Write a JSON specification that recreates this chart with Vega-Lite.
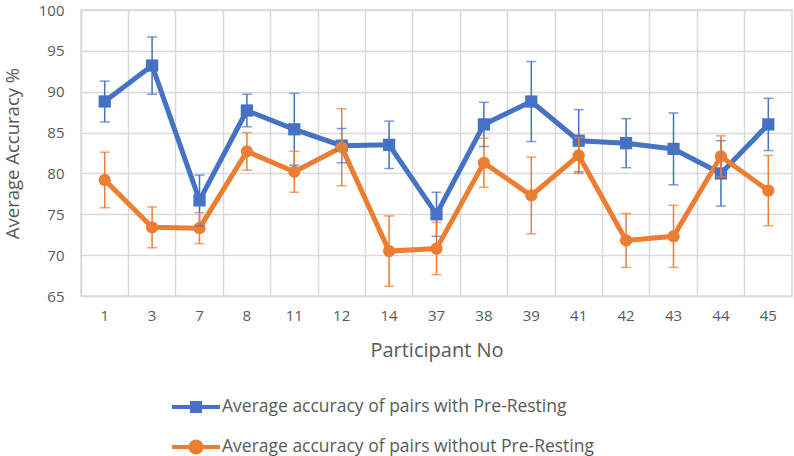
{
  "$schema": "https://vega.github.io/schema/vega-lite/v6.json",
  "width": 711,
  "height": 286,
  "autosize": {"type": "none"},
  "padding": {"left": 81, "top": 10, "right": 2, "bottom": 160},
  "background": "white",
  "config": {
    "font": "Open Sans",
    "view": {"stroke": "#d9d9d9", "strokeWidth": 1.5},
    "axis": {"gridColor": "#d9d9d9", "gridWidth": 1.5, "domain": false, "ticks": false, "labelColor": "#595959", "titleColor": "#595959", "labelFontSize": 15, "titleFontSize": 18.5, "titleFontWeight": "normal"}
  },
  "data": {"values": [
    {"p": "1", "s": "Average accuracy of pairs with Pre-Resting", "v": 88.8, "lo": 86.3, "hi": 91.3},
    {"p": "3", "s": "Average accuracy of pairs with Pre-Resting", "v": 93.2, "lo": 89.7, "hi": 96.7},
    {"p": "7", "s": "Average accuracy of pairs with Pre-Resting", "v": 76.7, "lo": 73.6, "hi": 79.8},
    {"p": "8", "s": "Average accuracy of pairs with Pre-Resting", "v": 87.7, "lo": 85.7, "hi": 89.7},
    {"p": "11", "s": "Average accuracy of pairs with Pre-Resting", "v": 85.4, "lo": 81.0, "hi": 89.8},
    {"p": "12", "s": "Average accuracy of pairs with Pre-Resting", "v": 83.4, "lo": 81.3, "hi": 85.5},
    {"p": "14", "s": "Average accuracy of pairs with Pre-Resting", "v": 83.5, "lo": 80.6, "hi": 86.4},
    {"p": "37", "s": "Average accuracy of pairs with Pre-Resting", "v": 75.0, "lo": 72.3, "hi": 77.7},
    {"p": "38", "s": "Average accuracy of pairs with Pre-Resting", "v": 86.0, "lo": 83.3, "hi": 88.7},
    {"p": "39", "s": "Average accuracy of pairs with Pre-Resting", "v": 88.8, "lo": 83.9, "hi": 93.7},
    {"p": "41", "s": "Average accuracy of pairs with Pre-Resting", "v": 84.0, "lo": 80.2, "hi": 87.8},
    {"p": "42", "s": "Average accuracy of pairs with Pre-Resting", "v": 83.7, "lo": 80.7, "hi": 86.7},
    {"p": "43", "s": "Average accuracy of pairs with Pre-Resting", "v": 83.0, "lo": 78.6, "hi": 87.4},
    {"p": "44", "s": "Average accuracy of pairs with Pre-Resting", "v": 80.0, "lo": 76.0, "hi": 84.0},
    {"p": "45", "s": "Average accuracy of pairs with Pre-Resting", "v": 86.0, "lo": 82.8, "hi": 89.2},
    {"p": "1", "s": "Average accuracy of pairs without Pre-Resting", "v": 79.2, "lo": 75.8, "hi": 82.6},
    {"p": "3", "s": "Average accuracy of pairs without Pre-Resting", "v": 73.4, "lo": 70.9, "hi": 75.9},
    {"p": "7", "s": "Average accuracy of pairs without Pre-Resting", "v": 73.3, "lo": 71.4, "hi": 75.2},
    {"p": "8", "s": "Average accuracy of pairs without Pre-Resting", "v": 82.7, "lo": 80.4, "hi": 85.0},
    {"p": "11", "s": "Average accuracy of pairs without Pre-Resting", "v": 80.2, "lo": 77.7, "hi": 82.7},
    {"p": "12", "s": "Average accuracy of pairs without Pre-Resting", "v": 83.2, "lo": 78.5, "hi": 87.9},
    {"p": "14", "s": "Average accuracy of pairs without Pre-Resting", "v": 70.5, "lo": 66.2, "hi": 74.8},
    {"p": "37", "s": "Average accuracy of pairs without Pre-Resting", "v": 70.8, "lo": 67.6, "hi": 74.0},
    {"p": "38", "s": "Average accuracy of pairs without Pre-Resting", "v": 81.3, "lo": 78.3, "hi": 84.3},
    {"p": "39", "s": "Average accuracy of pairs without Pre-Resting", "v": 77.3, "lo": 72.6, "hi": 82.0},
    {"p": "41", "s": "Average accuracy of pairs without Pre-Resting", "v": 82.2, "lo": 80.0, "hi": 84.4},
    {"p": "42", "s": "Average accuracy of pairs without Pre-Resting", "v": 71.8, "lo": 68.5, "hi": 75.1},
    {"p": "43", "s": "Average accuracy of pairs without Pre-Resting", "v": 72.3, "lo": 68.5, "hi": 76.1},
    {"p": "44", "s": "Average accuracy of pairs without Pre-Resting", "v": 82.1, "lo": 79.6, "hi": 84.6},
    {"p": "45", "s": "Average accuracy of pairs without Pre-Resting", "v": 77.9, "lo": 73.6, "hi": 82.2}
  ]},
  "encoding": {
    "x": {
      "field": "p", "type": "ordinal",
      "scale": {"domain": ["1","3","7","8","11","12","14","37","38","39","41","42","43","44","45"], "paddingInner": 0, "paddingOuter": 0},
      "axis": {"title": "Participant No", "labelAngle": 0, "bandPosition": 0, "labelPadding": 12, "titlePadding": 17, "titleFontSize": 20, "grid": true}
    },
    "y": {
      "field": "v", "type": "quantitative",
      "scale": {"domain": [65, 100], "nice": false, "zero": false},
      "axis": {"title": "Average Accuracy %", "values": [65,70,75,80,85,90,95,100], "labelPadding": 17, "titlePadding": 16}
    },
    "color": {
      "field": "s", "type": "nominal",
      "scale": {"domain": ["Average accuracy of pairs with Pre-Resting", "Average accuracy of pairs without Pre-Resting"], "range": ["#4472C4", "#ED7D31"]},
      "legend": {
        "title": null, "orient": "none", "legendX": 98, "legendY": 380, "direction": "vertical",
        "symbolSize": 900, "symbolStrokeWidth": 4, "labelFontSize": 17.5, "labelColor": "#595959", "labelOffset": 9, "labelLimit": 0, "rowPadding": 10, "padding": 0,
        "symbolOpacity": 1,
        "encode": {"symbols": {"update": {
          "shape": {"signal": "indexof(datum.value, 'without') >= 0 ? 'M-1.6,0H1.6M-0.37,0A0.37,0.37 0 1,0 0.37,0A0.37,0.37 0 1,0 -0.37,0Z' : 'M-1.6,0H1.6M-0.27,-0.27H0.27V0.27H-0.27Z'"},
          "fill": {"signal": "indexof(datum.value, 'without') >= 0 ? '#ED7D31' : '#4472C4'"},
          "stroke": {"signal": "indexof(datum.value, 'without') >= 0 ? '#ED7D31' : '#4472C4'"}
        }}}
      }
    }
  },
  "layer": [
    {"mark": {"type": "line", "strokeWidth": 5}},
    {"mark": {"type": "point", "filled": true, "opacity": 1}, "encoding": {"shape": {"field": "s", "type": "nominal", "scale": {"range": ["square", "circle"]}, "legend": null}, "size": {"value": 150}}},
    {"mark": {"type": "rule", "strokeWidth": 1.5}, "encoding": {"y": {"field": "lo", "type": "quantitative"}, "y2": {"field": "hi"}}},
    {"mark": {"type": "tick", "thickness": 1.5, "size": 10}, "encoding": {"y": {"field": "lo", "type": "quantitative"}}},
    {"mark": {"type": "tick", "thickness": 1.5, "size": 10}, "encoding": {"y": {"field": "hi", "type": "quantitative"}}}
  ]
}
